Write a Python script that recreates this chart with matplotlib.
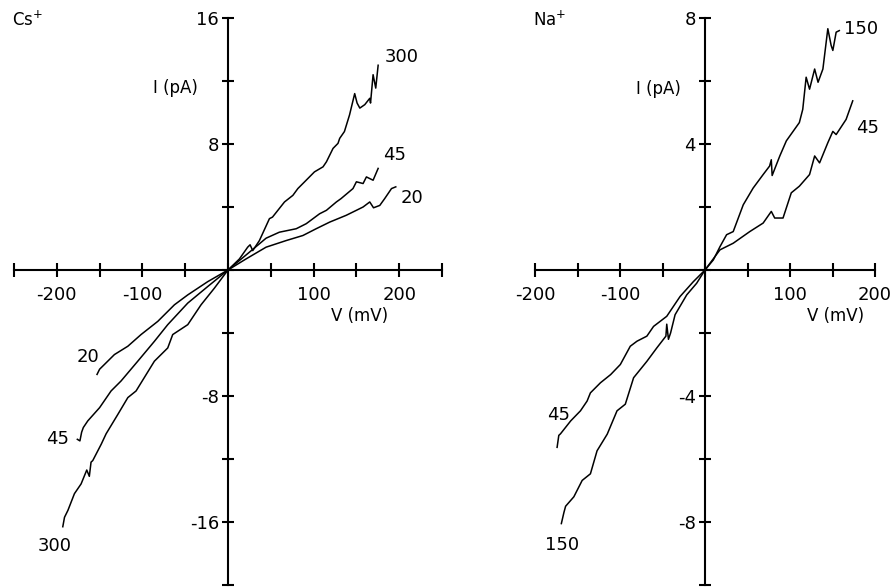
import matplotlib
matplotlib.use("Agg")
import matplotlib.pyplot as plt
from matplotlib.ticker import FixedLocator, FixedFormatter

plt.rcParams['font.family'] = ['DejaVu Sans']
plt.rcParams['axes.unicode_minus'] = False

# --- Cs+ traces (V in mV, I in pA) ---
cs20_v = [-153, -150, -144.4, -132.7, -117, -101.6, -82, -62.6, -47, -23.7, 0,
          21, 44.5, 68, 87.5, 103, 118.75, 138, 150, 157.8, 165.6, 170, 177.3, 183, 191, 196]
cs20_i = [-6.63, -6.3, -6.0, -5.37, -4.84, -4.1, -3.26, -2.21, -1.58, -0.74, 0,
          0.70, 1.45, 1.87, 2.19, 2.62, 3.04, 3.47, 3.79, 4.0, 4.32, 3.95, 4.1, 4.53, 5.17, 5.28]

cs45_v = [-176, -173, -171, -169, -163.8, -150, -136.6, -125, -105.4, -86, -70.4, -47, -23.7, 0,
          25, 44.5, 60, 79.7, 91.4, 107, 115, 126.6, 132, 146, 150, 157.8, 161.7, 169.5, 175.4]
cs45_i = [-10.75, -10.85, -10.3, -10.0, -9.58, -8.74, -7.68, -7.05, -5.79, -4.53, -3.47, -2.1, -1.05, 0,
          1.13, 2.02, 2.4, 2.62, 2.94, 3.57, 3.79, 4.32, 4.53, 5.17, 5.6, 5.49, 5.91, 5.7, 6.45]

cs300_v = [-193, -191, -187, -179.4, -171.6, -165, -162, -160, -158, -148, -142.4, -128.6, -117,
           -107.4, -86, -70.4, -64.6, -47, -31.5, -16, 0,
           13.3, 23, 25.8, 28.9, 36.7, 48.4, 52, 66, 75.8, 81.6, 89.5, 101, 111, 115, 122.7,
           128.5, 130.5, 136, 142, 148, 150.8, 154, 159.8, 165.6, 166.5, 169.5, 172.6, 175.4]
cs300_i = [-16.3, -15.7, -15.26, -14.2, -13.58, -12.7, -13.1, -12.2, -12.1, -11.05, -10.4, -9.16, -8.1,
           -7.68, -5.79, -4.95, -4.1, -3.47, -2.21, -1.16, 0,
           0.70, 1.45, 1.6, 1.23, 1.87, 3.26, 3.36, 4.32, 4.74, 5.17, 5.6, 6.23, 6.55, 6.87, 7.72,
           8.04, 8.36, 8.79, 9.85, 11.2, 10.6, 10.28, 10.5, 10.9, 10.6, 12.4, 11.55, 13.0]

# --- Na+ traces ---
na45_v = [-174, -172, -170, -158, -146.5, -138.7, -134.8, -123, -111, -99.6, -87.9, -80, -68.4,
          -60.5, -45, -29.3, -13.7, 0,
          17.6, 33.2, 52.7, 68.4, 78, 82, 91.8, 101.5, 111, 123, 129, 134.8, 144.5, 150.4,
          154.3, 166, 173.8]
na45_i = [-5.63, -5.25, -5.2, -4.79, -4.47, -4.16, -3.9, -3.58, -3.32, -3.0, -2.42, -2.26, -2.1,
          -1.79, -1.47, -0.84, -0.37, 0,
          0.64, 0.85, 1.22, 1.49, 1.86, 1.65, 1.65, 2.45, 2.66, 3.03, 3.62, 3.4, 4.04, 4.4,
          4.3, 4.78, 5.37]

na150_v = [-169, -166, -164, -154.3, -144.5, -134.8, -127, -115, -103.5, -93.75, -84, -68.4, -56.6,
           -46, -45, -43, -40.5, -35.2, -21.5, -9.8, 0,
           9.8, 17.6, 25.4, 33.2, 45, 56.6, 68.4, 76, 78, 79, 88, 95.7, 111, 115, 119, 123,
           129, 133, 138.7, 144.5, 148.4, 150.4, 154.3, 158]
na150_i = [-8.05, -7.7, -7.5, -7.2, -6.68, -6.47, -5.74, -5.21, -4.47, -4.26, -3.42, -2.9, -2.47,
           -2.1, -1.72, -2.2, -2.0, -1.42, -0.79, -0.42, 0,
           0.32, 0.74, 1.12, 1.22, 2.07, 2.6, 3.03, 3.3, 3.5, 3.0, 3.62, 4.1, 4.68, 5.1, 6.12, 5.74,
           6.38, 5.96, 6.38, 7.66, 7.13, 6.97, 7.55, 7.6]

fig = plt.figure(figsize=(8.96, 5.87), dpi=100)
ax1 = fig.add_axes([14/896, 2/587, 428/896, 567/587])
ax2 = fig.add_axes([535/896, 2/587, 340/896, 567/587])


def style_axes(ax, xlim, ylim, xticks, xlabels, yticks, ylabels):
    ax.set_xlim(*xlim)
    ax.set_ylim(*ylim)
    for s in ['top', 'right']:
        ax.spines[s].set_visible(False)
    for s in ['left', 'bottom']:
        ax.spines[s].set_position(('data', 0))
        ax.spines[s].set_linewidth(1.5)
    ax.xaxis.set_major_locator(FixedLocator(xticks))
    ax.xaxis.set_major_formatter(FixedFormatter(xlabels))
    ax.yaxis.set_major_locator(FixedLocator(yticks))
    ax.yaxis.set_major_formatter(FixedFormatter(ylabels))
    ax.tick_params(axis='x', direction='inout', length=10.5, width=1.5, pad=6, labelsize=13)
    ax.tick_params(axis='y', direction='inout', length=8, width=1.5, pad=2.5, labelsize=13)
    ax.patch.set_visible(False)


xt1 = [-250, -200, -150, -100, -50, 0, 50, 100, 150, 200, 250]
xl1 = ['', '-200', '', '-100', '', '', '', '100', '', '200', '']
yt1 = [-20, -16, -12, -8, -4, 0, 4, 8, 12, 16]
yl1 = ['', '-16', '', '-8', '', '', '', '8', '', '16']
style_axes(ax1, (-250, 250), (-20, 16), xt1, xl1, yt1, yl1)

xt2 = [-200, -150, -100, -50, 0, 50, 100, 150, 200]
xl2 = ['-200', '', '-100', '', '', '', '100', '', '200']
yt2 = [-10, -8, -6, -4, -2, 0, 2, 4, 6, 8]
yl2 = ['', '-8', '', '-4', '', '', '', '4', '', '8']
style_axes(ax2, (-200, 200), (-10, 8), xt2, xl2, yt2, yl2)

lw = 1.1
for v, i in [(cs20_v, cs20_i), (cs45_v, cs45_i), (cs300_v, cs300_i)]:
    ax1.plot(v, i, color='black', lw=lw, clip_on=False)
for v, i in [(na45_v, na45_i), (na150_v, na150_i)]:
    ax2.plot(v, i, color='black', lw=lw, clip_on=False)

fs = 13
kw = dict(fontsize=fs, ha='center', va='center', clip_on=False)
ax1.text(203, 13.5, '300', **kw)
ax1.text(194, 7.3, '45', **kw)
ax1.text(215, 4.6, '20', **kw)
ax1.text(-163.5, -5.5, '20', **kw)
ax1.text(-198.6, -10.7, '45', **kw)
ax1.text(-202, -17.5, '300', **kw)
ax1.text(-61, 11.55, 'I (pA)', fontsize=12, ha='center', va='center')
ax1.text(154, -2.9, 'V (mV)', fontsize=12, ha='center', va='center')
ax1.text(-252, 15.5, 'Cs$^{+}$', fontsize=12, ha='left', va='baseline', clip_on=False)

ax2.text(183.5, 7.65, '150', **kw)
ax2.text(191.8, 4.5, '45', **kw)
ax2.text(-171.8, -4.6, '45', **kw)
ax2.text(-168, -8.73, '150', **kw)
ax2.text(-55.3, 5.75, 'I (pA)', fontsize=12, ha='center', va='center')
ax2.text(154, -1.46, 'V (mV)', fontsize=12, ha='center', va='center')
ax2.text(-202, 7.75, 'Na$^{+}$', fontsize=12, ha='left', va='baseline', clip_on=False)

fig.savefig('out.png', dpi=100)
